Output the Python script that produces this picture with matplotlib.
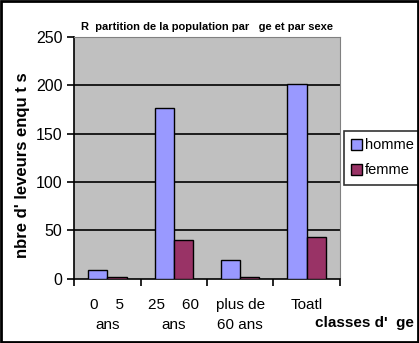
import matplotlib.pyplot as plt
import numpy as np

plt.rcParams["font.family"] = ["Liberation Sans", "DejaVu Sans"]

categories = ["0    5\nans", "25    60\nans", "plus de\n60 ans", "Toatl"]
homme = [9, 177, 20, 201]
femme = [2, 40, 2, 43]

fig = plt.figure(figsize=(4.19, 3.43), dpi=100)
ax = fig.add_axes([0.177, 0.187, 0.634, 0.705])

x = np.arange(len(categories))
w = 0.29
ax.bar(x - w / 2, homme, w, color="#9999ff", edgecolor="black", linewidth=1, label="homme", zorder=3)
ax.bar(x + w / 2, femme, w, color="#993366", edgecolor="black", linewidth=1, label="femme", zorder=3)

ax.set_facecolor("#c0c0c0")
ax.set_xlim(-0.5, 3.5)
ax.set_ylim(0, 250)
ax.set_yticks([0, 50, 100, 150, 200, 250])
for v in [50, 100, 150, 200]:
    ax.axhline(v, color="black", linewidth=1.2, zorder=1)

ax.set_xticks(np.arange(-0.5, 4, 1))
ax.set_xticklabels([])
ax.set_xticks(x, minor=True)
ax.set_xticklabels(categories, minor=True, fontsize=11, linespacing=1.5)
ax.tick_params(axis="x", which="minor", length=0, pad=14)
ax.tick_params(axis="x", which="major", length=5, width=1.2, direction="out")
ax.tick_params(axis="y", labelsize=11.5, length=5, width=1.2)

for s in ["top", "right"]:
    ax.spines[s].set_color("#808080")
for s in ["left", "bottom"]:
    ax.spines[s].set_linewidth(1.2)

ax.set_title("R  partition de la population par   ge et par sexe", fontsize=8, fontweight="bold", pad=5)
ax.set_ylabel("nbre d' leveurs enqu t s", fontsize=12, fontweight="bold")
ax.yaxis.set_label_coords(-0.165, 0.47)
fig.text(0.988, 0.058, "classes d'  ge", fontsize=11, fontweight="bold", ha="right", va="center")

leg = ax.legend(loc="center left", bbox_to_anchor=(1.005, 0.5), frameon=True, fancybox=False,
                edgecolor="black", fontsize=10.5, handlelength=0.75, handleheight=0.85,
                handletextpad=0.2, borderpad=0.5, borderaxespad=0.2, labelspacing=0.75)
leg.get_frame().set_linewidth(1.2)

fig.patches.append(plt.Rectangle((0.002, 0.003), 0.996, 0.994, transform=fig.transFigure,
                                 fill=False, edgecolor="black", linewidth=2))

fig.savefig("out.png", dpi=100)
